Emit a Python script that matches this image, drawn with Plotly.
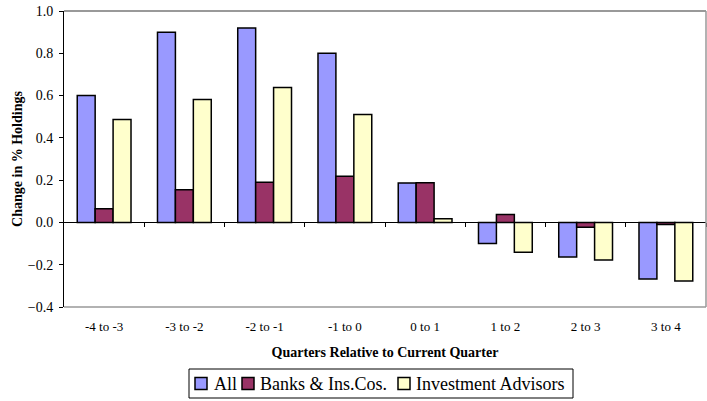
import plotly.graph_objects as go

quarters = ["-4 to -3", "-3 to -2", "-2 to -1", "-1 to 0", "0 to 1", "1 to 2", "2 to 3", "3 to 4"]
all_inst = [0.60, 0.90, 0.92, 0.80, 0.187, -0.10, -0.163, -0.267]
banks_ins = [0.065, 0.155, 0.19, 0.218, 0.188, 0.037, -0.023, -0.01]
inv_advisors = [0.487, 0.582, 0.638, 0.51, 0.017, -0.141, -0.178, -0.277]

series_names = ["All", "Banks & Ins.Cos.", "Investment Advisors"]
series_colors = ["#9999FF", "#993366", "#FFFFCC"]
series_values = [all_inst, banks_ins, inv_advisors]

y_min, y_max = -0.4, 1.0
font_family = "Liberation Serif"

W, H = 707, 401
M_L, M_R, M_T, M_B = 64, 1, 11, 94
plot_w = W - M_L - M_R
plot_h = H - M_T - M_B


def px_x(px):
    return (px - M_L) / plot_w


def px_y(py):
    return (H - M_B - py) / plot_h


fig = go.Figure()
for name, vals, color in zip(series_names, series_values, series_colors):
    fig.add_trace(go.Bar(
        x=quarters, y=vals, name=name, showlegend=False,
        marker=dict(color=color, line=dict(color="black", width=1.5)),
    ))

# invisible helper trace so the boundary-tick axis exists
fig.add_trace(go.Scatter(x=[0], y=[0], xaxis="x2", mode="markers",
                         marker=dict(opacity=0), showlegend=False, hoverinfo="skip"))

zero_pos = (0 - y_min) / (y_max - y_min)

# plot-area frame (grey on top, right and bottom)
shapes = [
    dict(type="line", xref="paper", yref="paper", x0=0, x1=1, y0=1, y1=1,
         line=dict(color="#999999", width=2)),
    dict(type="line", xref="paper", yref="paper", x0=1, x1=1, y0=0, y1=1,
         line=dict(color="#999999", width=1.5)),
    dict(type="line", xref="paper", yref="paper", x0=0, x1=1, y0=0, y1=0,
         line=dict(color="#999999", width=1.5)),
]
annotations = []

# legend box with one swatch + label per series
legend_box = (189, 369, 573, 398)
legend_swatch_left = [195, 242, 398]
legend_text_left = [212, 258, 414]
swatch_size = 12
legend_mid = (legend_box[1] + legend_box[3]) / 2

shapes.append(dict(type="rect", xref="paper", yref="paper",
                   x0=px_x(legend_box[0]), x1=px_x(legend_box[2]),
                   y0=px_y(legend_box[3]), y1=px_y(legend_box[1]),
                   line=dict(color="black", width=1), fillcolor="rgba(0,0,0,0)"))
for name, color, sx, tx in zip(series_names, series_colors, legend_swatch_left, legend_text_left):
    shapes.append(dict(type="rect", xref="paper", yref="paper",
                       x0=px_x(sx), x1=px_x(sx + swatch_size),
                       y0=px_y(legend_mid + swatch_size / 2), y1=px_y(legend_mid - swatch_size / 2),
                       line=dict(color="black", width=1.5), fillcolor=color))
    annotations.append(dict(text=name, xref="paper", yref="paper",
                            x=px_x(tx), y=px_y(legend_mid), xanchor="left", yanchor="middle",
                            showarrow=False, font=dict(size=18, family=font_family, color="black")))

fig.update_layout(
    width=W, height=H,
    margin=dict(l=M_L, r=M_R, t=M_T, b=M_B),
    plot_bgcolor="white", paper_bgcolor="white",
    font=dict(family=font_family, color="black", size=13),
    barmode="group", bargap=0.33, bargroupgap=0,
    showlegend=False,
    xaxis=dict(
        type="category", showline=False, ticks="", showgrid=False, zeroline=False,
        automargin=False,
        tickfont=dict(size=13), ticklabelstandoff=10,
        title=dict(text="<b>Quarters Relative to Current Quarter</b>", font=dict(size=14), standoff=14),
    ),
    xaxis2=dict(
        overlaying="x", anchor="free", position=zero_pos, type="linear",
        range=[-0.5, len(quarters) - 0.5],
        tickvals=[i + 0.5 for i in range(len(quarters))],
        showticklabels=False, ticks="outside", ticklen=4, tickcolor="black",
        showline=True, linecolor="black", linewidth=1, showgrid=False, zeroline=False,
    ),
    yaxis=dict(
        range=[y_min, y_max], dtick=0.2, tickformat=".1f",
        showline=True, linecolor="black", linewidth=1, automargin=False,
        ticks="outside", ticklen=4, tickcolor="black", showgrid=False, zeroline=False,
        tickfont=dict(size=14), ticklabelstandoff=3,
        title=dict(text="<b>Change in % Holdings</b>", font=dict(size=14), standoff=1),
    ),
    shapes=shapes,
    annotations=annotations,
)

fig.write_html("out.html")
